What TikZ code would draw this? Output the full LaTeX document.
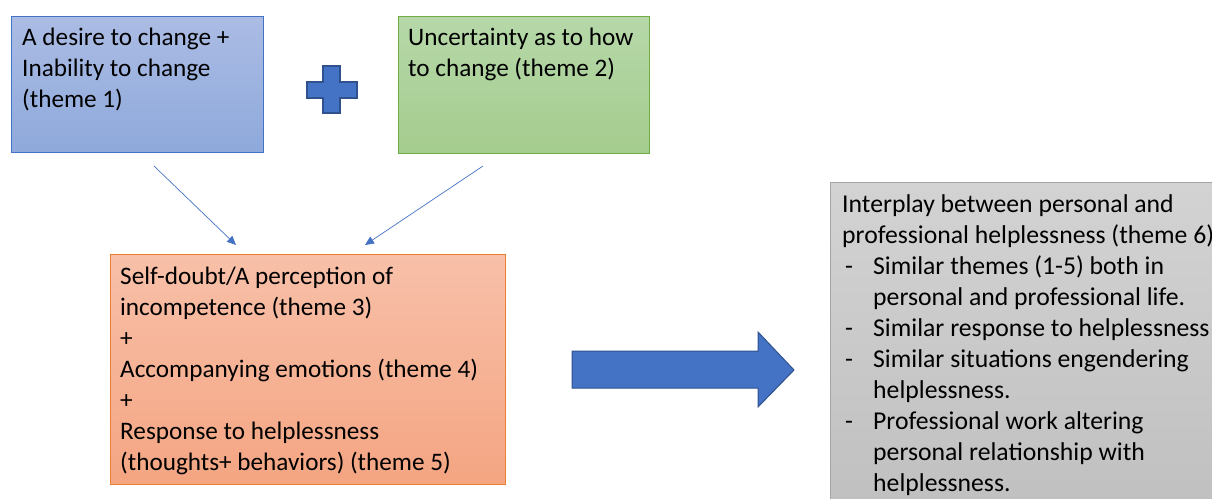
\documentclass[tikz,border=0pt]{standalone}
\usepackage{fontspec}
\setmainfont{Carlito}
\usetikzlibrary{arrows.meta}
\definecolor{accent}{HTML}{4472C4}
\definecolor{accentdark}{HTML}{2F528F}
\definecolor{bluetop}{HTML}{ABBCE4}
\definecolor{bluebot}{HTML}{8EA9DB}
\definecolor{greenbrd}{HTML}{70AD47}
\definecolor{greentop}{HTML}{B6D8A9}
\definecolor{greenbot}{HTML}{A5CC8E}
\definecolor{orangebrd}{HTML}{ED7D31}
\definecolor{orangetop}{HTML}{F8C0A9}
\definecolor{orangebot}{HTML}{F4A582}
\definecolor{graybrd}{HTML}{A5A5A5}
\definecolor{graytop}{HTML}{D3D3D3}
\definecolor{graybot}{HTML}{BFBFBF}
\begin{document}
\begin{tikzpicture}[x=1pt,y=-1pt,
  box/.style={draw, line width=1.2pt, rectangle, anchor=north west, inner sep=0pt},
  txt/.style={anchor=base west, inner sep=0pt, font=\fontsize{25.2}{31}\selectfont},
  thinarrow/.style={draw=accent, line width=0.7pt, -{Triangle[length=9pt,width=8pt]}},
  blockshape/.style={fill=accent, draw=accentdark, line width=1.2pt, line join=miter}]
\useasboundingbox (0,0) rectangle (1212,498);
\clip (0,0) rectangle (1212,498);

% boxes
\node[box, draw=accent, top color=bluetop, bottom color=bluebot,
      minimum width=252pt, minimum height=136pt] (b1) at (11,16) {};
\node[box, draw=greenbrd, top color=greentop, bottom color=greenbot,
      minimum width=251pt, minimum height=137pt] (b2) at (398,16) {};
\node[box, draw=orangebrd, top color=orangetop, bottom color=orangebot,
      minimum width=395pt, minimum height=230pt] (b3) at (110,254) {};
\node[box, draw=graybrd, line width=1pt, top color=graytop, bottom color=graybot,
      minimum width=420pt, minimum height=340pt] (b4) at (830,182) {};

% texts
\node[txt] (t1) at (22,45) {\begin{tabular}[t]{@{}l@{}}A desire to change +\\Inability to change\\(theme 1)\end{tabular}};
\node[txt] (t2) at (408,45) {\begin{tabular}[t]{@{}l@{}}Uncertainty as to how\\to change (theme 2)\end{tabular}};
\node[txt] (t3) at (120,284) {\begin{tabular}[t]{@{}l@{}}Self-doubt/A perception of\\incompetence (theme 3)\\+\\Accompanying emotions (theme 4)\\+\\Response to helplessness\\(thoughts+ behaviors) (theme 5)\end{tabular}};
\node[txt, font=\fontsize{25.7}{31}\selectfont] (t4) at (842,212) {\begin{tabular}[t]{@{}p{31pt}@{}l@{}}
\multicolumn{2}{@{}l@{}}{Interplay between personal and}\\
\multicolumn{2}{@{}l@{}}{professional helplessness (theme 6)}\\
\hspace{3pt}- & Similar themes (1-5) both in\\
 & personal and professional life.\\
\hspace{3pt}- & Similar response to helplessness\\
\hspace{3pt}- & Similar situations engendering\\
 & helplessness.\\
\hspace{3pt}- & Professional work altering\\
 & personal relationship with\\
 & helplessness.
\end{tabular}};

% plus sign
\draw[blockshape] (323,66) -- (340,66) -- (340,82) -- (357,82) -- (357,98) -- (340,98)
  -- (340,113) -- (323,113) -- (323,98) -- (307,98) -- (307,82) -- (323,82) -- cycle;

% block arrow
\draw[blockshape, line width=1pt] (572,351) -- (758,351) -- (758,332) -- (794,370)
  -- (758,407) -- (758,388) -- (572,388) -- cycle;

% thin arrows
\coordinate (a1s) at (154,166);
\coordinate (a1e) at (236,245);
\coordinate (a2s) at (483,166);
\coordinate (a2e) at (365,245);
\draw[thinarrow] (a1s) -- (a1e);
\draw[thinarrow] (a2s) -- (a2e);
\end{tikzpicture}
\end{document}
